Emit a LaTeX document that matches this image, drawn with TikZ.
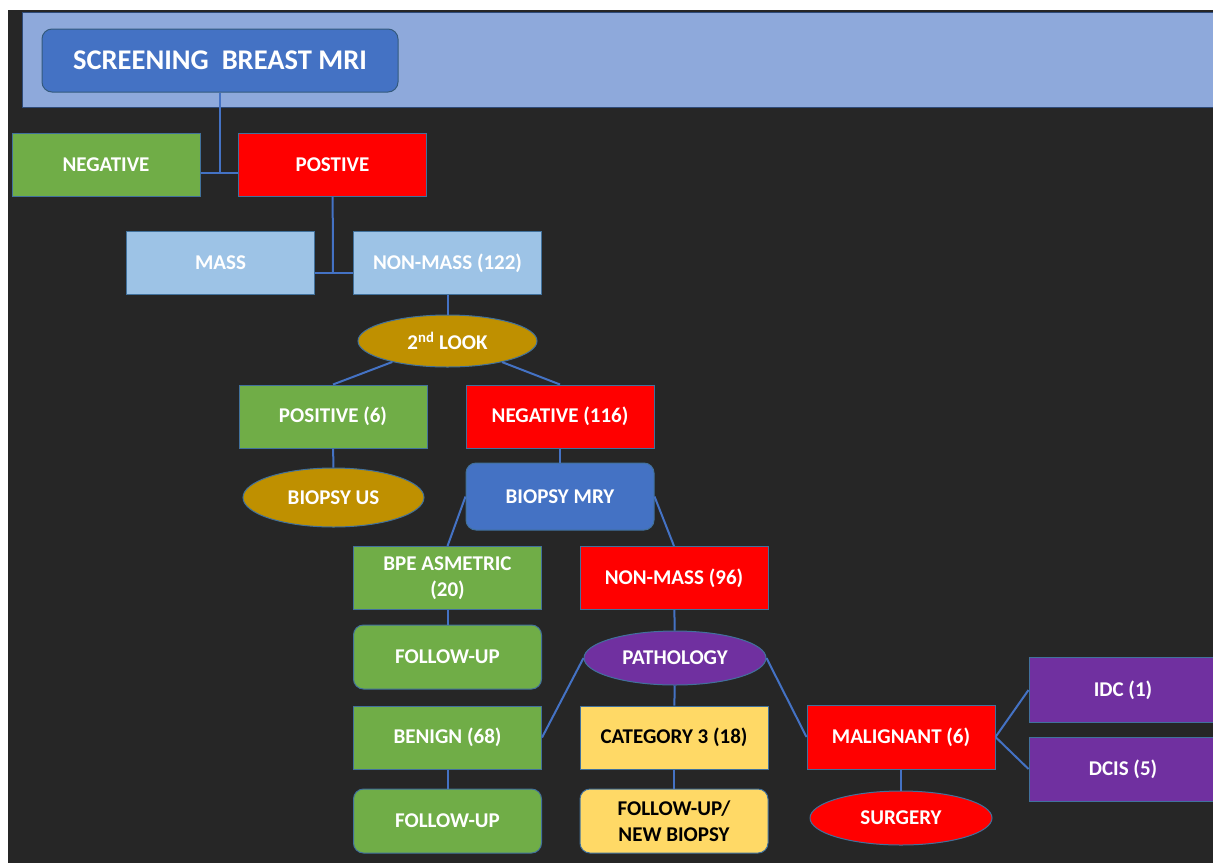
\documentclass[tikz,border=0pt]{standalone}
\usepackage{fontspec}
\setmainfont{Carlito}
\usetikzlibrary{shapes.geometric}
\definecolor{bg}{HTML}{262626}
\definecolor{banner}{HTML}{8EA9DB}
\definecolor{bannerline}{HTML}{2E4A78}
\definecolor{mriblue}{HTML}{4472C4}
\definecolor{edgeblue}{HTML}{41719C}
\definecolor{okgreen}{HTML}{70AD47}
\definecolor{alarmred}{HTML}{FF0000}
\definecolor{paleblue}{HTML}{9DC3E6}
\definecolor{gold}{HTML}{BF9000}
\definecolor{plum}{HTML}{7030A0}
\definecolor{cream}{HTML}{FFD966}
\definecolor{wireblue}{HTML}{4472C4}

\begin{document}
\begin{tikzpicture}[x=1pt,y=-1pt,
        bx/.style={draw=edgeblue, line width=1pt, minimum width=188pt, minimum height=63pt,
            inner sep=0pt, text=white, align=center,
            font=\fontsize{21}{26}\selectfont\bfseries},
        rbx/.style={bx, rounded corners=10pt},
        ov/.style={bx, ellipse, minimum width=182pt, minimum height=54pt},
        wire/.style={wireblue, line width=2pt}]
            \useasboundingbox (0,0) rectangle (1213,863);
            \clip (0,0) rectangle (1213,863);
            \fill[white] (0,0) rectangle (1213,863);
            \fill[bg] (8,10) rectangle (1213,863);
            \draw[fill=banner, draw=bannerline, line width=1pt] (22,12) rectangle (1216,107);

            % first levels
            \draw (220,60.5) node[rbx, fill=mriblue, draw=edgeblue!80!black, minimum width=356pt,
                font=\fontsize{28.5}{32}\selectfont\bfseries](mri){SCREENING\ \ BREAST MRI};
            \draw (106,164.5) node[bx, fill=okgreen](neg){NEGATIVE};
            \draw (332.5,164.5) node[bx, fill=alarmred](pos){POSTIVE};
            \draw (220.5,263) node[bx, fill=paleblue](mass){MASS};
            \draw (447.5,263) node[bx, fill=paleblue](nonmass){NON-MASS (122)};
            \draw (447.5,341) node[ov, fill=gold, minimum width=179pt, minimum height=52pt](look){2\textsuperscript{nd} LOOK};

            % second look
            \draw (333,416.5) node[bx, fill=okgreen](pos6){POSITIVE (6)};
            \draw (560,416.5) node[bx, fill=alarmred](neg116){NEGATIVE (116)};
            \draw (333.5,497.5) node[ov, fill=gold, minimum width=181pt, minimum height=59pt](bus){BIOPSY US};
            \draw (560,496.5) node[rbx, fill=mriblue, minimum height=67pt](bmry){BIOPSY MRY};
            \draw (447.5,578) node[bx, fill=okgreen](bpe){BPE ASMETRIC\\(20)};
            \draw (674,578) node[bx, fill=alarmred](nm96){NON-MASS (96)};
            \draw (447.5,657) node[rbx, fill=okgreen, minimum height=64pt](fu1){FOLLOW-UP};
            \draw (675,658) node[ov, fill=plum](patho){PATHOLOGY};

            % pathology
            \draw (447.5,737.5) node[bx, fill=okgreen](benign){BENIGN (68)};
            \draw (674,737.5) node[bx, fill=cream, text=black](cat){CATEGORY 3 (18)};
            \draw (901,737) node[bx, fill=alarmred, minimum height=64pt](malig){MALIGNANT (6)};
            \draw (447.5,821) node[rbx, fill=okgreen, minimum height=64pt](fu2){FOLLOW-UP};
            \draw (674,821) node[rbx, fill=cream, text=black, minimum height=64pt](fu3){FOLLOW-UP/\\NEW BIOPSY};
            \draw (901,818) node[ov, fill=alarmred](surg){SURGERY};
            \draw (1123,690) node[bx, fill=plum, minimum height=65pt](idc){IDC (1)};
            \draw (1123,769) node[bx, fill=plum, minimum height=64pt](dcis){DCIS (5)};

            \coordinate (j1) at (220,173);
            \coordinate (j2) at (333,273);

            \begin{scope}[wire]
                \path (mri) edge (j1);
                \path (neg.east |- j1) edge (pos.west |- j1);
                \path (pos) edge (j2);
                \path (mass.east |- j2) edge (nonmass.west |- j2);
                \path (nonmass) edge (look);
                \path (look) edge (pos6.north);
                \path (look) edge (neg116.north);
                \path (pos6) edge (bus);
                \path (neg116) edge (bmry);
                \path (bmry.west) edge (bpe.north);
                \path (bmry.east) edge (nm96.north);
                \path (bpe) edge (fu1);
                \path (nm96) edge (patho);
                \path (patho.west) edge (benign.east);
                \path (patho) edge (cat);
                \path (patho.east) edge (malig.west);
                \path (benign) edge (fu2);
                \path (cat) edge (fu3);
                \path (malig) edge (surg);
                \path (malig.east) edge (idc.west);
                \path (malig.east) edge (dcis.west);
            \end{scope}
        \end{tikzpicture}
\end{document}
